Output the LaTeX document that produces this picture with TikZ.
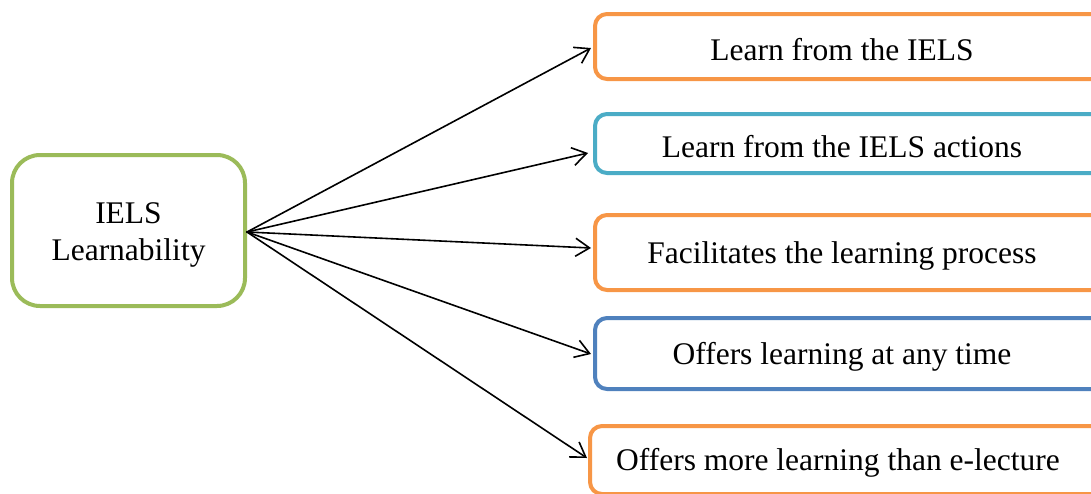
\documentclass[tikz,border=0pt]{standalone}
\usepackage{fontspec}
\setmainfont{Liberation Serif}
\usetikzlibrary{arrows.meta}
\definecolor{cOrange}{HTML}{F79646}
\definecolor{cTeal}{HTML}{4BACC6}
\definecolor{cBlue}{HTML}{4F81BD}
\definecolor{cGreen}{HTML}{9BBB59}
\tikzset{
  txt/.style={inner sep=0pt, align=center, font=\fontsize{31.5}{37}\selectfont},
  itxt/.style={txt, xshift=-13pt, yshift=-3pt},
  itembox/.style={draw=#1, line width=4pt, rounded corners=12pt, fill=white,
    inner sep=0pt, minimum width=520pt},
  mainbox/.style={draw=cGreen, line width=4pt, rounded corners=28pt, fill=white,
    inner sep=0pt, minimum width=233pt, minimum height=151pt},
  link/.style={draw=black, line width=1.6pt, line cap=round,
    -{Straight Barb[length=14pt,width=18pt,line width=1.6pt]}}
}
\begin{document}
\begin{tikzpicture}[x=1pt,y=-1pt]
\useasboundingbox (0,0) rectangle (1091,493);
\node[mainbox, label={[txt,yshift=-4pt]center:IELS\\Learnability}] (L) at (128.5,230.5) {};
\node[itembox=cOrange, minimum height=65pt, label={[itxt]center:Learn from the IELS}] (b1) at (855,46.5) {};
\node[itembox=cTeal, minimum height=59pt, label={[itxt]center:Learn from the IELS actions}] (b2) at (855,143.5) {};
\node[itembox=cOrange, minimum height=75pt, label={[itxt]center:Facilitates the learning process}] (b3) at (855,252.5) {};
\node[itembox=cBlue, minimum height=71pt, label={[itxt]center:Offers learning at any time}] (b4) at (855,353.5) {};
\node[itembox=cOrange, minimum height=68pt, label={[itxt,xshift=1pt]center:Offers more learning than e-lecture}] (b5) at (850,460) {};
\draw[link] ([yshift=-1.5pt]L.east) -- ([xshift=-2pt,yshift=-1.5pt]b1.west);
\draw[link] ([yshift=-1.5pt]L.east) -- ([xshift=-5pt,yshift=-9.5pt]b2.west);
\draw[link] ([yshift=-1.5pt]L.east) -- ([xshift=-2pt,yshift=4.5pt]b3.west);
\draw[link] ([yshift=-1.5pt]L.east) -- ([xshift=-2pt,yshift=-0.5pt]b4.west);
\draw[link] ([yshift=-1.5pt]L.east) -- ([xshift=-1pt,yshift=2pt]b5.west);
\end{tikzpicture}
\end{document}
